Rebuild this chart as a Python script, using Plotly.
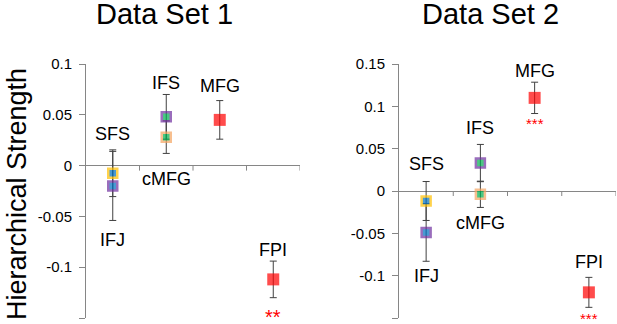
import plotly.graph_objects as go

# ---------------- data ----------------
regions = ["SFS", "IFJ", "IFS", "cMFG", "MFG", "FPI"]
columns = ["SFS/IFJ", "SFS/IFJ", "IFS/cMFG", "IFS/cMFG", "MFG", "FPI"]
column_order = ["SFS/IFJ", "IFS/cMFG", "MFG", "FPI"]

set1_values = [-0.0075, -0.020, 0.048, 0.028, 0.045, -0.112]
set1_errors = [0.023, 0.034, 0.022, 0.016, 0.019, 0.018]
set2_values = [-0.0118, -0.049, 0.033, -0.0039, 0.110, -0.1197]
set2_errors = [0.023, 0.034, 0.022, 0.0155, 0.0185, 0.0177]

set1_signif = ["", "", "", "", "", "**"]
set2_signif = ["", "", "", "", "***", "***"]

y1_ticks = [0.1, 0.05, 0, -0.05, -0.1, -0.15]
y1_ticktext = ["0.1", "0.05", "0", "-0.05", "-0.1", "-0.15"]
y2_ticks = [0.15, 0.1, 0.05, 0, -0.05, -0.1, -0.15]
y2_ticktext = ["0.15", "0.1", "0.05", "0", "-0.05", "-0.1", "-0.15"]

# ---------------- styles ----------------
fill_colors = ["#0070C0", "#0070C0", "#00B050", "#00B050", "#FF0000", "#FF0000"]
border_colors = ["#FFC000", "#7030A0", "#7030A0", "#F4A460", "#FF0000", "#FF0000"]
border_widths = [2.5, 2.5, 2.5, 2.5, 0, 0]
marker_sizes = [9, 9, 9, 9, 12, 12]

# label offsets (pixels, relative to the point)
set1_label_shift = [39, -54, 34, -42, 34, 29]
set2_label_shift = [37, -44, 35, -29, 27, 30]
set1_sig_shift = [0, 0, 0, 0, 0, -38]
set2_sig_shift = [0, 0, 0, 0, -26, -26]

FONT = "Arial, Liberation Sans, sans-serif"
AXIS_GRAY = "#868686"
W, H = 617, 324

fig = go.Figure()


def add_panel(values, errors, xa, ya):
    fig.add_trace(go.Scatter(
        x=columns, y=values, mode="markers",
        xaxis=xa, yaxis=ya,
        marker=dict(symbol="square", size=marker_sizes, color=fill_colors,
                    line=dict(color=border_colors, width=border_widths)),
        error_y=dict(type="data", array=errors, visible=True,
                     color="#404040", thickness=1, width=3.5),
        showlegend=False, hoverinfo="skip", cliponaxis=False,
    ))


add_panel(set1_values, set1_errors, "x", "y")
add_panel(set2_values, set2_errors, "x2", "y2")

annotations = []
for vals, shifts, sigs, sshift, xr, yr, sigsize in [
    (set1_values, set1_label_shift, set1_signif, set1_sig_shift, "x", "y", 20),
    (set2_values, set2_label_shift, set2_signif, set2_sig_shift, "x2", "y2", 15),
]:
    for name, col, v, s, sig, ss in zip(regions, columns, vals, shifts, sigs, sshift):
        annotations.append(dict(x=col, y=v, xref=xr, yref=yr, text=name,
                                showarrow=False, yshift=s,
                                xanchor="center", yanchor="middle",
                                font=dict(family=FONT, size=18, color="#000000")))
        if sig:
            annotations.append(dict(x=col, y=v, xref=xr, yref=yr, text=sig,
                                    showarrow=False, yshift=ss,
                                    xanchor="center", yanchor="middle",
                                    font=dict(family=FONT, size=sigsize, color="#FF0000")))

# titles
annotations.append(dict(x=165 / W, y=1, xref="paper", yref="paper", text="Data Set 1",
                        showarrow=False, xanchor="center", yanchor="top", yshift=4,
                        font=dict(family=FONT, size=29, color="#000000")))
annotations.append(dict(x=490 / W, y=1, xref="paper", yref="paper", text="Data Set 2",
                        showarrow=False, xanchor="center", yanchor="top", yshift=4,
                        font=dict(family=FONT, size=29, color="#000000")))
annotations.append(dict(x=17 / W, y=(H - 194) / H, xref="paper", yref="paper",
                        text="Hierarchical Strength", textangle=-90,
                        showarrow=False, xanchor="center", yanchor="middle",
                        font=dict(family=FONT, size=27, color="#000000")))

# x-axis tick marks on the zero line at category boundaries
shapes = []
for xr, yr in [("x", "y"), ("x2", "y2")]:
    for b in [0.5, 1.5, 2.5, 3.5]:
        shapes.append(dict(type="line", xref=xr, yref=yr, x0=b, x1=b,
                           ysizemode="pixel", yanchor=0, y0=0, y1=-5,
                           line=dict(color=AXIS_GRAY, width=1)))

ydom = [(H - 318) / H, (H - 64) / H]
xcommon = dict(type="category", categoryorder="array", categoryarray=column_order,
               range=[-0.5, 3.5], showticklabels=False, showgrid=False,
               showline=False, ticks="", zeroline=False, fixedrange=True,
               automargin=False)
ycommon = dict(showgrid=False, zeroline=True, zerolinecolor=AXIS_GRAY, zerolinewidth=1,
               showline=True, linecolor=AXIS_GRAY, linewidth=1,
               ticks="outside", ticklen=6, tickcolor=AXIS_GRAY, tickwidth=1,
               tickfont=dict(family=FONT, size=15, color="#000000"),
               ticklabelstandoff=4, automargin=False, fixedrange=True)

fig.update_layout(
    width=W, height=H,
    margin=dict(l=0, r=0, t=0, b=0, autoexpand=False),
    paper_bgcolor="white", plot_bgcolor="white",
    xaxis=dict(domain=[86 / W, 300 / W], anchor="y", **xcommon),
    xaxis2=dict(domain=[399 / W, 616 / W], anchor="y2", **xcommon),
    yaxis=dict(domain=ydom, anchor="x", range=[-0.15, 0.1],
               tickvals=y1_ticks, ticktext=y1_ticktext, **ycommon),
    yaxis2=dict(domain=ydom, anchor="x2", range=[-0.15, 0.15],
                tickvals=y2_ticks, ticktext=y2_ticktext, **ycommon),
    annotations=annotations,
    shapes=shapes,
)

fig.write_html("out.html", config={"displayModeBar": False},
               post_script="document.body.style.margin='0';document.body.style.overflow='hidden';")
